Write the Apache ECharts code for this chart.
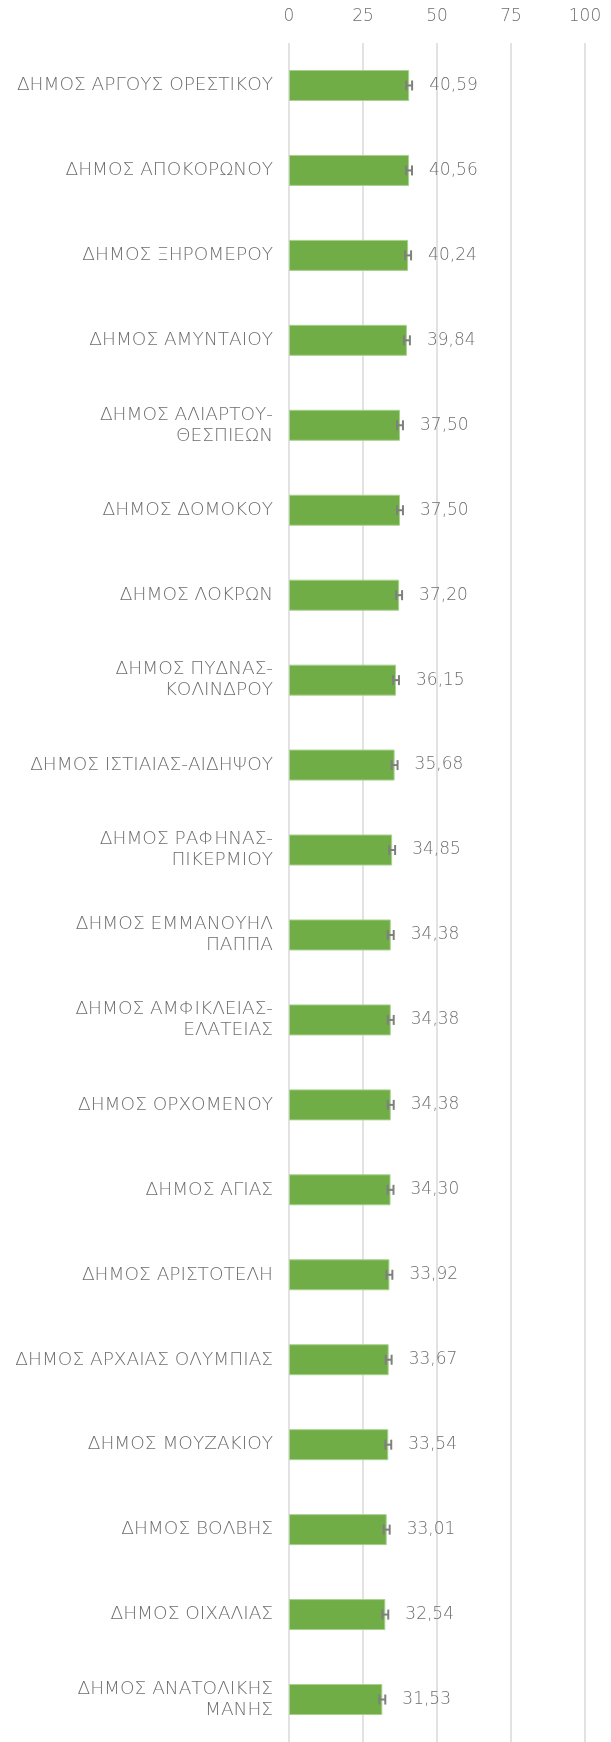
<!DOCTYPE html>
<html>
<head>
<meta charset="utf-8">
<script src="https://cdn.jsdelivr.net/npm/echarts@6/dist/echarts.min.js"></script>
<style>
  html, body { margin: 0; padding: 0; background: #fff; }
  #chart { width: 611px; height: 1742px; }
</style>
</head>
<body>
<div id="chart"></div>
<script>
// δήμοι
var dimoi = [
  'ΔΗΜΟΣ ΑΡΓΟΥΣ ΟΡΕΣΤΙΚΟΥ',
  'ΔΗΜΟΣ ΑΠΟΚΟΡΩΝΟΥ',
  'ΔΗΜΟΣ ΞΗΡΟΜΕΡΟΥ',
  'ΔΗΜΟΣ ΑΜΥΝΤΑΙΟΥ',
  'ΔΗΜΟΣ ΑΛΙΑΡΤΟΥ-\nΘΕΣΠΙΕΩΝ',
  'ΔΗΜΟΣ ΔΟΜΟΚΟΥ',
  'ΔΗΜΟΣ ΛΟΚΡΩΝ',
  'ΔΗΜΟΣ ΠΥΔΝΑΣ-\nΚΟΛΙΝΔΡΟΥ',
  'ΔΗΜΟΣ ΙΣΤΙΑΙΑΣ-ΑΙΔΗΨΟΥ',
  'ΔΗΜΟΣ ΡΑΦΗΝΑΣ-\nΠΙΚΕΡΜΙΟΥ',
  'ΔΗΜΟΣ ΕΜΜΑΝΟΥΗΛ\nΠΑΠΠΑ',
  'ΔΗΜΟΣ ΑΜΦΙΚΛΕΙΑΣ-\nΕΛΑΤΕΙΑΣ',
  'ΔΗΜΟΣ ΟΡΧΟΜΕΝΟΥ',
  'ΔΗΜΟΣ ΑΓΙΑΣ',
  'ΔΗΜΟΣ ΑΡΙΣΤΟΤΕΛΗ',
  'ΔΗΜΟΣ ΑΡΧΑΙΑΣ ΟΛΥΜΠΙΑΣ',
  'ΔΗΜΟΣ ΜΟΥΖΑΚΙΟΥ',
  'ΔΗΜΟΣ ΒΟΛΒΗΣ',
  'ΔΗΜΟΣ ΟΙΧΑΛΙΑΣ',
  'ΔΗΜΟΣ ΑΝΑΤΟΛΙΚΗΣ\nΜΑΝΗΣ'
];
var timi = [40.59, 40.56, 40.24, 39.84, 37.50, 37.50, 37.20, 36.15, 35.68, 34.85,
            34.38, 34.38, 34.38, 34.30, 33.92, 33.67, 33.54, 33.01, 32.54, 31.53];
// σφάλμα (±)
var sfalma = [1.0, 1.0, 1.0, 1.0, 1.0, 1.0, 1.0, 1.0, 1.0, 1.0,
              1.0, 1.0, 1.0, 1.0, 1.0, 1.0, 1.0, 1.0, 1.0, 1.0];
var xTicks = [0, 25, 50, 75, 100];

var fontF = "'DejaVu Sans ExtraLight', 'DejaVu Sans', sans-serif";
var txtColor = '#6e6e6e';
var errData = [];
for (var i = 0; i < timi.length; i++) {
  errData.push([i, timi[i] - sfalma[i], timi[i] + sfalma[i]]);
}

var myChart = echarts.init(document.getElementById('chart'));
var option = {
  animation: false,
  grid: { left: 289, right: 26, top: 43, bottom: 0 },
  xAxis: {
    type: 'value',
    position: 'top',
    min: xTicks[0],
    max: xTicks[xTicks.length - 1],
    interval: 25,
    axisLine: { show: false },
    axisTick: { show: false },
    axisLabel: { color: txtColor, fontSize: 17, fontFamily: fontF, fontWeight: 200, margin: 18 },
    splitLine: { lineStyle: { color: '#d9d9d9', width: 1.5 } }
  },
  yAxis: {
    type: 'category',
    data: dimoi,
    inverse: true,
    axisLine: { show: false },
    axisTick: { show: false },
    axisLabel: { color: txtColor, fontSize: 18.5, fontFamily: fontF, fontWeight: 200, margin: 16, lineHeight: 21, align: 'right' }
  },
  series: [
    {
      name: 'τιμή',
      type: 'bar',
      data: timi,
      barWidth: 31,
      itemStyle: { color: '#70ad47', borderColor: '#a9d18e', borderWidth: 1 },
      label: {
        show: true,
        position: 'right',
        distance: 20,
        color: txtColor,
        fontSize: 17,
        fontFamily: fontF,
        fontWeight: 200,
        formatter: function (p) { return p.value.toFixed(2).replace('.', ','); }
      },
      z: 2
    },
    {
      name: 'σφάλμα',
      type: 'custom',
      data: errData,
      z: 3,
      renderItem: function (params, api) {
        var idx = api.value(0);
        var lo = api.coord([api.value(1), idx]);
        var hi = api.coord([api.value(2), idx]);
        var h = 5;
        var st = { stroke: '#7f7f7f', lineWidth: 2 };
        return {
          type: 'group',
          children: [
            { type: 'line', shape: { x1: lo[0], y1: lo[1], x2: hi[0], y2: hi[1] }, style: st },
            { type: 'line', shape: { x1: lo[0], y1: lo[1] - h, x2: lo[0], y2: lo[1] + h }, style: st },
            { type: 'line', shape: { x1: hi[0], y1: hi[1] - h, x2: hi[0], y2: hi[1] + h }, style: st }
          ]
        };
      }
    }
  ]
};
myChart.setOption(option);
</script>
</body>
</html>
